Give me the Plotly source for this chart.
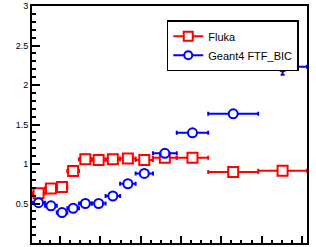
import plotly.graph_objects as go

# ---- data ----
bin_edges = [0.61, 1.26, 1.84, 2.36, 2.94, 3.57, 4.26, 4.98, 5.75, 6.61, 7.79, 9.35, 11.83, 14.25]
fluka_vals = [0.63, 0.69, 0.71, 0.91, 1.06, 1.05, 1.06, 1.07, 1.05, 1.08, 1.08, 0.90, 0.915]
fluka_errs = [0.015, 0.015, 0.015, 0.015, 0.015, 0.015, 0.015, 0.015, 0.015, 0.015, 0.015, 0.015, 0.015]
geant_vals = [0.51, 0.47, 0.385, 0.44, 0.50, 0.50, 0.595, 0.75, 0.88, 1.135, 1.395, 1.635, 2.23]
geant_errs = [0.012, 0.012, 0.012, 0.012, 0.012, 0.012, 0.015, 0.015, 0.02, 0.02, 0.025, 0.04, 0.10]
y_tick_vals = [0, 0.5, 1, 1.5, 2, 2.5, 3]
y_tick_text = ["0", "0.5", "1", "1.5", "2", "2.5", "3"]
x_tick_vals = [2, 4, 6, 8, 10, 12, 14]
x_tick_text = ["2", "4", "6", "8", "10", "12", "14"]
series_names = ["Fluka", "Geant4 FTF_BIC"]

centers = [(a + b) / 2 for a, b in zip(bin_edges[:-1], bin_edges[1:])]
halfw = [(b - a) / 2 for a, b in zip(bin_edges[:-1], bin_edges[1:])]

RED = "#ff0000"
BLUE = "#0000ff"
FONT = "Liberation Sans, Arial, Helvetica, sans-serif"

fig = go.Figure()

def add_series(vals, errs, color, symbol, size, name):
    fig.add_trace(go.Scatter(
        x=centers, y=vals, mode="markers", showlegend=False, cliponaxis=True,
        marker=dict(symbol=symbol, size=size, color="white",
                    line=dict(color=color, width=2)),
        error_x=dict(type="data", array=halfw, color=color, thickness=2, width=2),
        error_y=dict(type="data", array=errs, color=color, thickness=2, width=2),
    ))
    # legend entry (line + marker, ROOT "lpe" style)
    fig.add_trace(go.Scatter(
        x=[None], y=[None], mode="lines+markers", name=name,
        line=dict(color=color, width=2),
        marker=dict(symbol=symbol, size=size - 1, color="white",
                    line=dict(color=color, width=2)),
    ))

add_series(fluka_vals, fluka_errs, RED, "square", 10, series_names[0])
add_series(geant_vals, geant_errs, BLUE, "circle", 9, series_names[1])

fig.update_layout(
    template="none",
    width=316, height=247,
    margin=dict(l=32, r=9, t=6, b=4, autoexpand=False),
    paper_bgcolor="white", plot_bgcolor="white",
    font=dict(family=FONT, size=9, color="black"),
    showlegend=True,
    legend=dict(
        x=0.49, y=0.94, xanchor="left", yanchor="top",
        bgcolor="white", bordercolor="black", borderwidth=1.5,
        font=dict(family=FONT, size=11, color="black"),
        itemwidth=30, tracegroupgap=0,
    ),
    xaxis=dict(
        range=[bin_edges[0], bin_edges[-1]],
        showgrid=False, zeroline=False, automargin=False,
        showline=True, linecolor="black", linewidth=2, mirror=True,
        ticks="inside", ticklen=7, tickwidth=1.5, tickcolor="black",
        tickvals=x_tick_vals, ticktext=x_tick_text,
        tickfont=dict(family=FONT, size=9, color="black"),
        minor=dict(dtick=0.5, tick0=0, ticks="inside", ticklen=3.5,
                   tickwidth=1.5, tickcolor="black", showgrid=False),
    ),
    yaxis=dict(
        range=[0, 3],
        showgrid=False, zeroline=False, automargin=False,
        showline=True, linecolor="black", linewidth=2, mirror=True,
        ticks="inside", ticklen=8, tickwidth=1.5, tickcolor="black",
        tickvals=y_tick_vals, ticktext=y_tick_text,
        tickfont=dict(family=FONT, size=9, color="black"),
        minor=dict(dtick=0.1, tick0=0, ticks="inside", ticklen=4,
                   tickwidth=1.5, tickcolor="black", showgrid=False),
    ),
)

fig.write_html("out.html",
               config={"displayModeBar": False},
               post_script="document.body.style.margin='0';document.body.style.overflow='hidden';")
